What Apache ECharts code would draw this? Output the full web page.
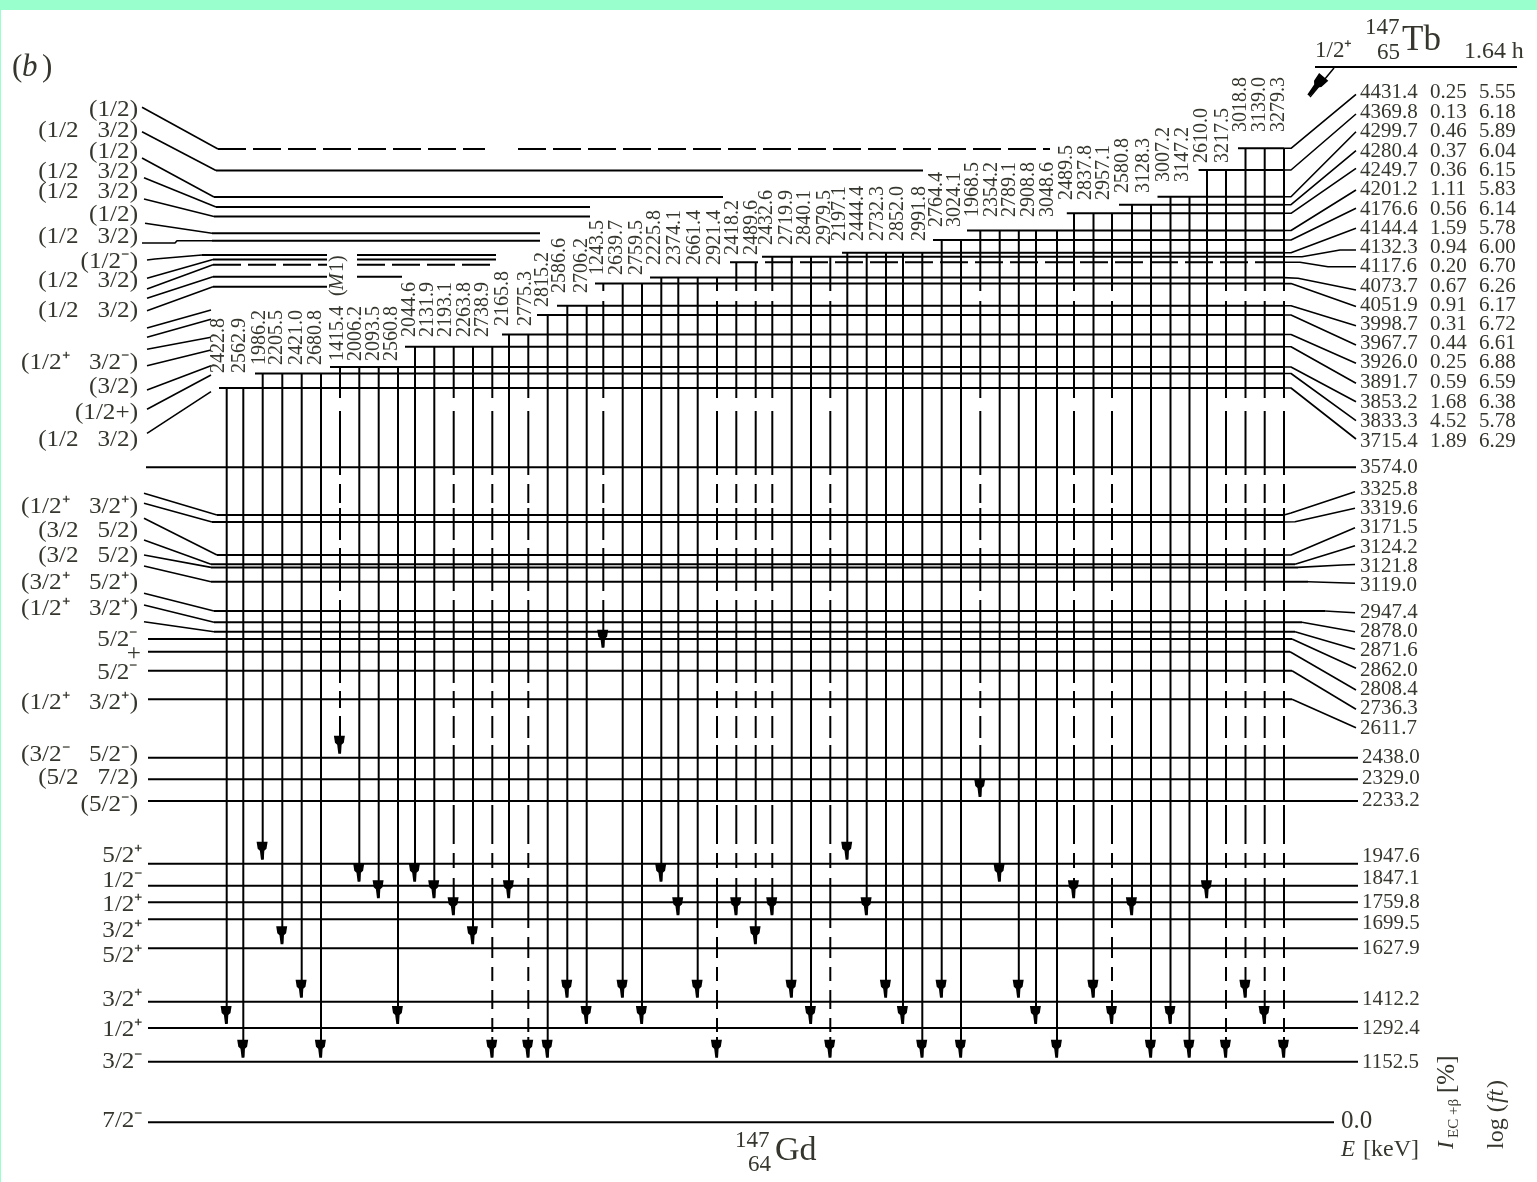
<!DOCTYPE html>
<html><head><meta charset="utf-8">
<script src="https://cdn.jsdelivr.net/npm/echarts@6/dist/echarts.min.js"></script>
<style>
html,body{margin:0;padding:0;background:#99ffcc;width:1537px;height:1182px;overflow:hidden}
#chart{position:absolute;left:1px;top:10px;width:1536px;height:1172px;background:#fff;filter:blur(0.4px)}
</style></head><body><div id="chart"></div>
<script>
// ---------- values read from the scheme ----------
const levelEnergy = ['4431.4','4369.8','4299.7','4280.4','4249.7','4201.2','4176.6','4144.4','4132.3','4117.6','4073.7','4051.9','3998.7','3967.7','3926.0','3891.7','3853.2','3833.3','3715.4','3574.0','3325.8','3319.6','3171.5','3124.2','3121.8','3119.0','2947.4','2878.0','2871.6','2862.0','2808.4','2736.3','2611.7','2438.0','2329.0','2233.2','1947.6','1847.1','1759.8','1699.5','1627.9','1412.2','1292.4','1152.5','0.0'];
const feedingPercent = ['0.25','0.13','0.46','0.37','0.36','1.11','0.56','1.59','0.94','0.20','0.67','0.91','0.31','0.44','0.25','0.59','1.68','4.52','1.89'];
const logFt = ['5.55','6.18','5.89','6.04','6.15','5.83','6.14','5.78','6.00','6.70','6.26','6.17','6.72','6.61','6.88','6.59','6.38','5.78','6.29'];
const spinLabels = ['(1/2)','(1/2   3/2)','(1/2)','(1/2   3/2)','(1/2   3/2)','(1/2)','(1/2   3/2)','(1/2⁻)','(1/2   3/2)','(1/2   3/2)','(1/2⁺   3/2⁻)','(3/2)','(1/2+)','(1/2   3/2)','(1/2⁺   3/2⁺)','(3/2   5/2)','(3/2   5/2)','(3/2⁺   5/2⁺)','(1/2⁺   3/2⁺)','5/2⁻','+','5/2⁻','(1/2⁺   3/2⁺)','(3/2⁻   5/2⁻)','(5/2   7/2)','(5/2⁻)','5/2⁺','1/2⁻','1/2⁺','3/2⁺','5/2⁺','3/2⁺','1/2⁺','3/2⁻','7/2⁻'];
const gammaEnergy = ['2422.8','2562.9','1986.2','2205.5','2421.0','2680.8','1415.4','2006.2','2093.5','2560.8','2044.6','2131.9','2193.1','2263.8','2738.9','2165.8','2775.3','2815.2','2586.6','2706.2','1243.5','2639.7','2759.5','2225.8','2374.1','2661.4','2921.4','2418.2','2489.6','2432.6','2719.9','2840.1','2979.5','2197.1','2444.4','2732.3','2852.0','2991.8','2764.4','3024.1','1968.5','2354.2','2789.1','2908.8','3048.6','2489.5','2837.8','2957.1','2580.8','3128.3','3007.2','3147.2','2610.0','3217.5','3018.8','3139.0','3279.3'];
const gammaFromLevel = ['3715.4','3715.4','3833.3','3833.3','3833.3','3833.3','3853.2','3853.2','3853.2','3853.2','3891.7','3891.7','3891.7','3891.7','3891.7','3926.0','3926.0','3967.7','3998.7','3998.7','4051.9','4051.9','4051.9','4073.7','4073.7','4073.7','4073.7','4117.6','4117.6','4132.3','4132.3','4132.3','4132.3','4144.4','4144.4','4144.4','4144.4','4144.4','4176.6','4176.6','4201.2','4201.2','4201.2','4201.2','4201.2','4249.7','4249.7','4249.7','4280.4','4280.4','4299.7','4299.7','4369.8','4369.8','4431.4','4431.4','4431.4'];
const gammaToLevel = ['1292.4','1152.5','1947.6','1627.9','1412.2','1152.5','2438.0','1847.1','1759.8','1292.4','1847.1','1759.8','1699.5','1627.9','1152.5','1759.8','1152.5','1152.5','1412.2','1292.4','2808.4','1412.2','1292.4','1847.1','1699.5','1412.2','1152.5','1699.5','1627.9','1699.5','1412.2','1292.4','1152.5','1947.6','1699.5','1412.2','1292.4','1152.5','1412.2','1152.5','2233.2','1847.1','1412.2','1292.4','1152.5','1759.8','1412.2','1292.4','1699.5','1152.5','1292.4','1152.5','1759.8','1152.5','1412.2','1292.4','1152.5'];
const gammaUncertain = ['1415.4','2193.1','2738.9','2775.3','1243.5','2921.4','2418.2','2489.6','2432.6','2979.5','1968.5','2489.5','2957.1','3217.5','3018.8','3139.0','3279.3'];

// ---------- layout of the scheme, in drawing units of the two hidden axes ----------
const gammaColumn = [226.7,243.3,262.7,282.3,301.7,321,340,359.3,378.7,398,415,434.3,453.7,473,492.3,509,528.3,547.7,567.3,586.7,603.3,622.7,642,661.3,678.3,697.7,717,736.3,755.7,772.3,791.7,811,830.3,847.3,866.7,886,903,922.3,941.7,961,980.3,999.7,1018.8,1036,1057,1074,1093.5,1112,1132,1151,1170.5,1189.5,1207,1226,1245.5,1264.7,1284];
const gammaTextColumn = [219,240,260,277,297,316,338,356,374,392,410,428,446,465,483,503,526,543,560,582,598,617,637,655,675,695,715,733,752,767,787,805,825,840,858,878,898,920,937,955,973,992,1010,1029,1048,1067,1086,1104,1123,1144,1164,1183,1202,1223,1241,1260,1279];
const gammaTextBase = {'4431.4':132,'4369.8':163,'4299.7':182,'4280.4':193,'4249.7':200,'4201.2':217,'4176.6':227,'4144.4':241,'4132.3':245,'4117.6':255,'4073.7':265,'4051.9':275,'3998.7':293,'3967.7':307,'3926.0':326,'3891.7':337,'3853.2':361,'3833.3':365,'3715.4':373};
const dashGaps = [[291,301],[398,411],[475,484],[503,508],[540,548],[591,600],[683,691],[708,716],[738,745],[800,805],[844,853],[868,878],[928,937],[958,967],[981,990],[1009,1018],[1032,1037]];
// one row per level: x0, x1, y, dashed
const levelRows = [
 [[218,485,149,1],[518,1050,149,1],[1238,1284,148.3,0]],
 [[216,923,170.5,0],[1198.6,1284,170,0]],
 [[214,723,197,0],[1157.5,1284,196.7,0]],
 [[216,590,207,0],[1119,1284,204.7,0]],
 [[214,590,216.5,0],[1066.8,1284,213.3,0]],
 [[212,540,233.3,0],[967,1284,230.5,0]],
 [[212,540,240.7,0],[933,1284,240,0]],
 [[202,327,255,0],[357,496,255,0],[842,1284,252.7,0]],
 [[213,327,259.6,0],[357,496,259.6,0],[762,1284,256.7,0]],
 [[213,327,264.7,1],[357,496,264.7,1],[730,1284,262.3,1]],
 [[213,327,276.7,0],[357,402,276.7,0],[650,1284,277.6,0]],
 [[213,327,286.7,0],[595,1284,283.6,0]],
 [[557,1284,305.7,0]],[[537,1284,315,0]],[[502,1284,334.5,0]],[[405,1284,346.7,0]],[[330,1284,367,0]],[[255,1284,373.5,0]],[[219,1284,388,0]],
 [[146,1356,467.3,0]],
 [[217,1284,515,0]],[[212,1284,522,0]],[[217,1284,555,0]],[[211,1295,564.3,0]],[[211,1298,567.4,0]],[[211,1308,581.7,0]],
 [[214,1325,611,0]],[[214,1302,622.3,0]],[[214,1295,631.7,0]],[[148,1292,639,0]],[[148,1290,651.7,0]],[[148,1292,670.7,0]],[[148,1292,699.3,0]],
 [[148,1358,757.7,0]],[[148,1358,779.3,0]],[[148,1358,801,0]],
 [[148,1358,863.7,0]],[[148,1358,885.7,0]],[[148,1358,902.3,0]],[[148,1358,919.3,0]],[[148,1358,948.3,0]],[[148,1358,1001.7,0]],[[148,1358,1028,0]],[[148,1358,1061.7,0]],[[148,1334,1122.3,0]]
];
const leftLinks = [
 [[142,107.3],[218,149]],[[142,131.7],[216,170.5]],[[142,158],[214,197]],[[144,177.7],[216,207]],[[144,199],[214,216.5]],[[145,223.3],[212,233.3]],[[142,243],[175,243],[177,240.7],[212,240.7]],
 [[147,260],[155,259],[202,255]],[[147,278.3],[213,259.6]],[[147,289],[213,264.7]],[[147,298.3],[213,276.7]],[[147,310.7],[213,286.7]],
 [[147,328],[211,310]],[[147,337.3],[211,319.3]],[[147,349.3],[211,337.3]],[[147,365.7],[211,350]],[[147,390],[211,365.7]],[[147,409.3],[211,375]],[[147,433.3],[211,391.7]],
 [[144,493.3],[217,515]],[[144,503.3],[212,522]],[[144,518.3],[217,555]],[[144,540],[211,564.3]],[[144,555],[211,567.4]],[[144,566],[211,581.7]],
 [[144,593.3],[214,611]],[[144,605],[214,622.3]],[[144,621.7],[214,631.7]]
];
const rightLinks = [
 [[1284,148.3],[1291,148.3],[1356,94.3]],[[1284,170],[1291,170],[1356,114]],[[1284,196.7],[1291,196.7],[1356,131.7]],[[1284,204.7],[1291,204.7],[1356,150.7]],[[1284,213.3],[1291,213.3],[1356,168.3]],[[1284,230.5],[1291,230.5],[1356,190]],[[1284,240],[1291,240],[1356,208.3]],[[1284,252.7],[1291,252.7],[1356,228.3]],[[1284,256.7],[1302,256.7],[1340,250],[1356,250]],[[1284,262.3],[1300,262.3],[1328,266.7],[1356,266.7]],[[1284,277.6],[1298,278.3],[1356,290]],[[1284,283.6],[1291,283.6],[1356,306.5]],[[1284,305.7],[1291,305.7],[1356,325.7]],[[1284,315],[1291,315],[1356,345]],[[1284,334.5],[1291,334.5],[1356,363.3]],[[1284,346.7],[1291,346.7],[1356,383.3]],[[1284,367],[1291,367],[1356,401.7]],[[1284,373.5],[1291,373.5],[1356,420.7]],[[1284,388],[1291,388],[1356,439]],
 null,
 [[1284,515],[1291,513],[1355,491.7]],[[1284,522],[1295,521.7],[1355,508.3]],[[1284,555],[1291,555],[1355,527.7]],[[1295,564.3],[1355,545.7]],[[1298,567.4],[1342,565],[1355,564.5]],[[1308,581.7],[1309,583.3],[1355,583.3]],
 [[1325,611],[1326,612.7],[1355,612.7]],[[1302,622.3],[1355,631.7]],[[1295,631.7],[1355,649.3]],[[1292,639],[1356,668.3]],[[1290,651.7],[1356,690]],[[1292,670.7],[1356,709.3]],[[1292,699.3],[1356,727.7]]
];
const parentLine = [[1315,67],[1517,67]];
const parentArrowShaft = [[1334,68],[1310,97]];
const levelTextY = [92,112,131,151,170,189,209,228,247,266,286,305,324,343,362,382,402,421,441,467,489,508,527,547,566,585,612,631,650,670,689,708,728,757,778,800,856,878,902,923,948,999,1028,1062];
const spinTextY = [110,131,152,172,192,215,237,262,281,311,363,387,413,440,507,531,556,583,609,640,654,673,703,755,778,805,856,881,905,931,956,1000,1030,1062,1121];

const LEVEL_BY_E = Object.fromEntries(levelEnergy.map((e,i)=>[e,i]));
const lastY = e => { const r = levelRows[LEVEL_BY_E[e]]; return r[r.length-1][2]; };
const INK = '#000', TEXT = '#36362e';

// ---------- marks ----------
const paths = [];
levelRows.forEach(rows => rows.forEach(r => paths.push({pts:[[r[0],r[2]],[r[1],r[2]]], type:r[3]?[28,7]:'solid'})));
leftLinks.forEach(p => paths.push({pts:p,w:1.6}));
rightLinks.forEach(p => { if(p) paths.push({pts:p,w:1.6}); });
paths.push({pts:parentLine},{pts:parentArrowShaft,w:1.5});
gammaEnergy.forEach((g,i) => {
  const x = gammaColumn[i], top = lastY(gammaFromLevel[i]), tip = lastY(gammaToLevel[i])-5;
  if (!gammaUncertain.includes(g)) { paths.push({pts:[[x,top],[x,tip]]}); return; }
  let y = top;
  dashGaps.forEach(gap => {
    if (gap[0] > y && gap[1] < tip) { paths.push({pts:[[x,y],[x,gap[0]]]}); y = gap[1]; }
  });
  paths.push({pts:[[x,y],[x,tip]]});
});
const arrowPath = 'path://M0 0H10L9 7L7 9L6.5 18H4L3 9L1 7Z';
const arrowData = gammaEnergy.map((g,i)=>[gammaColumn[i]-0.6, lastY(gammaToLevel[i])-13]);

// ---------- text ----------
const T = [];
const add = (t,x,y,s,o={}) => T.push(Object.assign({t,x,y,s},o));
levelEnergy.slice(0,-1).forEach((e,i)=>add(e,i>=33?1362:1360,levelTextY[i],21));
add('0.0',1341,1121,25);
feedingPercent.forEach((v,i)=>add(v,1430,levelTextY[i],21));
logFt.forEach((v,i)=>add(v,1479,levelTextY[i],21));
spinLabels.forEach((s,i)=>add(s,i>=26?143:(s==='+'?141:138),spinTextY[i],23.5,{a:'right',sx:1.07}));
gammaEnergy.forEach((g,i)=>add(g,gammaTextColumn[i],gammaTextBase[gammaFromLevel[i]],20,{r:Math.PI/2}));
add('(',gammaTextColumn[6],296,20,{r:Math.PI/2});
add('M',gammaTextColumn[6],290,20,{r:Math.PI/2,i:1});
add('1)',gammaTextColumn[6],272,20,{r:Math.PI/2});
add('(',12,68,31); add('b',22,68,31,{i:1}); add(')',42,68,31);
add('1/2⁺',1315,51,23);
add('147',1365,28,23); add('65',1377,53,23); add('Tb',1402,41,35);
add('1.64 h',1464,52,23,{sx:1.04});
add('147',735,1141,23); add('64',748,1165,23); add('Gd',775,1151,34);
add('E',1341,1150,23,{i:1}); add('[keV]',1363,1150,24);
add('I',1447,1149,23,{r:Math.PI/2,i:1});
add('EC +β',1454,1138,15,{r:Math.PI/2});
add('[%]',1447,1093,25,{r:Math.PI/2});
add('log (',1497,1149,24,{r:Math.PI/2});
add('ft',1497,1103,24,{r:Math.PI/2,i:1});
add(')',1497,1088,24,{r:Math.PI/2});

// ---------- chart ----------
const series = paths.map(p => ({type:'line',data:p.pts,showSymbol:false,silent:true,animation:false,z:2,
  lineStyle:{color:INK,width:p.w||2,type:p.type||'solid',cap:'butt'}}));
series.push({type:'scatter',data:arrowData,symbol:arrowPath,symbolSize:[11,18],silent:true,animation:false,z:3,itemStyle:{color:INK,opacity:1}});
series.push({type:'scatter',data:[[1316,86]],symbol:arrowPath,symbolSize:[12,24],symbolRotate:-40,silent:true,animation:false,z:3,itemStyle:{color:INK,opacity:1}});
series.push({type:'custom',data:T.map(d=>[d.x,d.y]),encode:{x:0,y:1},silent:true,animation:false,z:4,clip:false,
  renderItem(params,api){
    const d=T[params.dataIndex], p=api.coord([d.x,d.y]);
    return {type:'text',x:p[0],y:p[1],rotation:d.r||0,scaleX:d.sx||1,style:{text:d.t,fill:TEXT,
      font:(d.i?'italic ':'')+d.s+'px "Liberation Serif"',textAlign:d.a||'left',textVerticalAlign:'middle'}};
  }});
const chart = echarts.init(document.getElementById('chart'));
chart.setOption({
  animation:false,backgroundColor:'#fff',
  grid:{left:0,right:0,top:0,bottom:0},
  xAxis:{type:'value',min:1,max:1537,show:false},
  yAxis:{type:'value',min:10,max:1182,inverse:true,show:false},
  series
});
</script></body></html>
